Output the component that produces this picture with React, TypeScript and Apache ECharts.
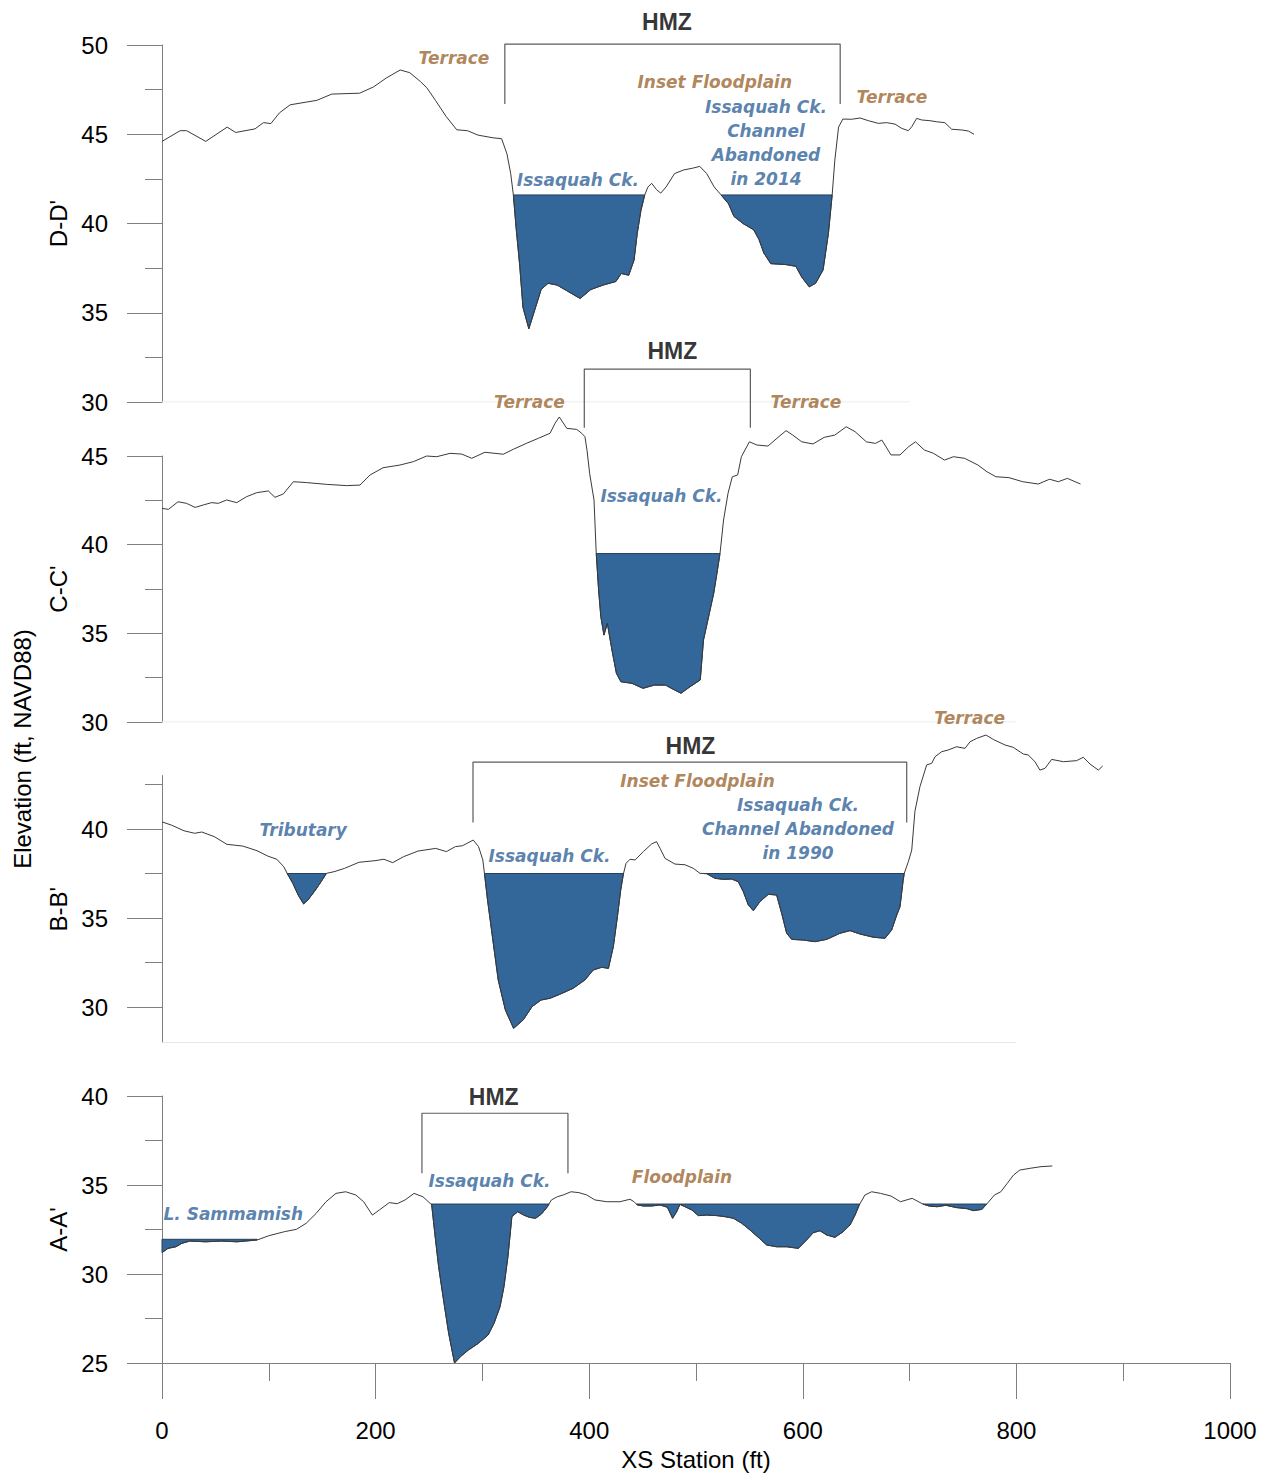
import React, { useEffect, useRef } from "react";
import * as echarts from "echarts";

// Surveyed ground profiles, [station (ft), elevation (ft, NAVD88)]
const profileD: number[][] = [
  [0, 44.6], [17, 45.2], [23, 45.2], [41, 44.6], [61, 45.4], [69, 45.1], [87, 45.3], [95, 45.65],
  [102, 45.6], [110, 46.2], [120, 46.65], [145, 46.9], [159, 47.25], [185, 47.3], [198, 47.65],
  [210, 48.15], [223, 48.6], [232, 48.45], [242, 47.95], [248, 47.6], [256, 46.9], [266, 46.0],
  [276, 45.25], [286, 45.2], [296, 44.95], [310, 44.8], [318, 44.75], [323, 43.9], [326.5, 42.8],
  [329, 41.6], [331.5, 39.8], [335, 37.6], [338, 35.3], [343.5, 34.1], [349, 35.15], [355, 36.3],
  [361.5, 36.65], [370, 36.55], [380, 36.2], [391.5, 35.8], [401.5, 36.3], [413, 36.55], [425, 36.75],
  [430, 37.2], [437, 37.1], [442, 37.95], [445, 39.45], [448.5, 40.75], [452, 41.6], [455, 42.05],
  [458.5, 42.25], [463, 41.9], [467, 41.7], [472, 42.05], [480, 42.8], [488.5, 43.0], [497, 43.1],
  [503.5, 43.2], [510, 42.8], [517, 42.05], [523.5, 41.6], [530.5, 41.1], [535.5, 40.4], [544, 40.0],
  [554, 39.65], [559, 39.1], [563.5, 38.35], [570, 37.75], [584, 37.7], [593.5, 37.6], [599, 37.0],
  [606, 36.45], [612, 36.65], [619, 37.4], [624, 39.45], [627.5, 41.6], [630, 43.55], [633.5, 45.4],
  [637.5, 45.85], [645.8, 45.84], [653.6, 45.91], [661.4, 45.76], [670.7, 45.61], [678.5, 45.65],
  [686.3, 45.57], [692.6, 45.33], [698.8, 45.2], [702, 45.42], [706.6, 45.89], [711.3, 45.8],
  [719, 45.76], [725.4, 45.7], [733, 45.65], [739.4, 45.28], [748.8, 45.24], [755, 45.18], [760.3, 45.0],
];

const profileC: number[][] = [
  [0, 42.05], [6, 41.99], [15, 42.42], [23, 42.33], [31, 42.1], [38.7, 42.24], [46.5, 42.37],
  [52.7, 42.33], [60.5, 42.52], [70, 42.37], [79, 42.7], [88.6, 42.93], [99.5, 43.03], [105.8, 42.67],
  [113.6, 42.86], [123, 43.55], [135.5, 43.5], [154, 43.4], [173, 43.33], [185.4, 43.36], [194.8, 43.93],
  [207, 44.34], [222.8, 44.49], [235.3, 44.68], [247.8, 45.0], [257.2, 44.96], [269.7, 45.15],
  [280.6, 45.11], [290, 44.87], [302.4, 45.21], [319.6, 45.1], [329, 45.38], [341.5, 45.72], [352.4, 46.0],
  [363.3, 46.28], [368, 46.84], [372, 47.2], [379, 46.56], [388.3, 46.5], [393, 46.28], [396, 46.09],
  [398, 45.3], [400.4, 44.02], [404.5, 42.52], [406.6, 39.51], [408.8, 37.44], [410.9, 35.94],
  [413.8, 34.9], [417, 35.56], [421.3, 34.06], [425.5, 32.74], [429.7, 32.27], [440, 32.18],
  [450.4, 31.9], [461, 32.08], [471.5, 32.08], [480, 31.8], [486, 31.62], [494.4, 31.99], [504, 32.37],
  [507, 34.62], [512.5, 36.13], [516.6, 37.26], [519.6, 38.38], [522.5, 39.51], [525.8, 41.39],
  [530, 42.9], [534, 43.83], [539, 43.93], [542.5, 44.96], [550, 45.8], [557, 45.62], [567.4, 45.56],
  [575.8, 46.0], [584.3, 46.43], [590.6, 46.18], [599, 45.8], [609.5, 45.68], [620, 46.05], [630, 46.18],
  [640.7, 46.65], [649, 46.37], [659.5, 45.8], [668, 45.71], [674, 45.9], [682.6, 45.06], [691, 45.06],
  [699, 45.52], [705.5, 45.8], [713.8, 45.34], [722.3, 45.15], [732.7, 44.77], [741, 44.96],
  [751.5, 44.87], [764, 44.49], [772.5, 44.11], [780.8, 43.83], [793, 43.78], [805.9, 43.55],
  [820.5, 43.42], [831, 43.69], [839.3, 43.55], [847.7, 43.74], [860, 43.42],
];

const profileB: number[][] = [
  [0, 40.4], [8.8, 40.22], [20.6, 39.9], [30.5, 39.76], [37.3, 39.83], [49, 39.57], [60.7, 39.14],
  [75.7, 39.04], [89, 38.78], [99, 38.48], [107.5, 38.3], [114, 37.88], [117.5, 37.47], [122.5, 36.95],
  [127.5, 36.29], [132.6, 35.79], [136.6, 36.01], [142.6, 36.48], [149, 37.04], [154, 37.51], [161, 37.6],
  [171, 37.79], [184.4, 38.13], [199.4, 38.22], [207.8, 38.3], [216, 38.11], [226, 38.44], [239.6, 38.76],
  [256.3, 38.91], [266.3, 38.73], [274.7, 39.01], [281.4, 39.06], [291.4, 39.38], [296.4, 39.01],
  [300.4, 38.26], [302, 37.47], [304.8, 36.01], [309.8, 33.76], [314.8, 31.52], [321.5, 29.83],
  [329.2, 28.8], [338.2, 29.27], [346.5, 30.02], [354.9, 30.39], [363.3, 30.49], [372, 30.7],
  [385, 31.05], [396, 31.52], [403.8, 32.08], [411.7, 32.23], [418, 32.17], [422.6, 33.39],
  [426.4, 35.07], [429.5, 36.57], [432, 37.47], [434.5, 38.07], [438.2, 38.3], [443, 38.26],
  [450.7, 38.73], [458.5, 39.16], [463, 39.29], [466.3, 38.92], [471, 38.35], [480.3, 38.03],
  [489.7, 37.99], [497.5, 37.79], [503.7, 37.51], [510, 37.49], [517.8, 37.23], [525.6, 37.17],
  [533.4, 37.19], [539.6, 37.04], [544.3, 36.48], [549, 35.73], [553.7, 35.41], [559.9, 35.92],
  [567.7, 36.33], [575.5, 36.29], [580.2, 35.26], [584.9, 34.14], [589.6, 33.8], [600.5, 33.76],
  [611.4, 33.67], [622.4, 33.8], [634.8, 34.14], [644.2, 34.29], [653.6, 34.1], [666, 33.92],
  [677, 33.86], [683.2, 34.33], [688, 35.17], [691, 35.63], [694, 37.13], [695, 37.51], [698.8, 38.16],
  [702, 38.82], [705, 41.0], [709.7, 42.38], [716, 43.6], [720.7, 43.69], [723.8, 44.06], [730, 44.34],
  [736.2, 44.44], [744, 44.62], [751.9, 44.53], [756.6, 44.9], [762.8, 45.09], [771.5, 45.28],
  [778.4, 45.03], [789.3, 44.72], [797, 44.59], [806.5, 44.21], [811, 44.16], [817.4, 43.78],
  [822, 43.31], [826.8, 43.41], [833, 43.91], [844, 43.78], [856.4, 43.84], [862.6, 44.03],
  [868.9, 43.65], [876.7, 43.31], [880.8, 43.54],
];

const profileA: number[][] = [
  [0, 31.2], [5.6, 31.44], [13, 31.53], [18.5, 31.72], [26, 31.85], [40.8, 31.81], [55.5, 31.85],
  [70.4, 31.81], [89, 31.91], [100, 32.15], [114.8, 32.38], [125.9, 32.51], [135, 32.85], [144.4, 33.41],
  [153.6, 34.06], [162.9, 34.53], [172, 34.62], [181.4, 34.44], [188.8, 34.06], [197, 33.31],
  [203.6, 33.6], [212.8, 34.01], [220.2, 33.95], [227.6, 34.16], [236, 34.53], [244.3, 34.34],
  [251, 33.97], [252.5, 33.9], [255.4, 32.29], [259, 30.41], [263.6, 28.54], [268.4, 26.67],
  [273.9, 25.0], [279.5, 25.36], [286.9, 25.73], [296.1, 26.1], [305.3, 26.57], [310.9, 27.23],
  [316.5, 28.16], [320.2, 29.29], [323.9, 30.97], [327.6, 33.22], [333.1, 33.5], [338.7, 33.31],
  [344.2, 33.18], [349.8, 33.13], [355.3, 33.37], [360.9, 33.78], [364.6, 34.16], [370.1, 34.34],
  [375.7, 34.44], [383, 34.62], [390.4, 34.57], [397.7, 34.44], [405.4, 34.16], [416.4, 34.06],
  [428.8, 34.06], [438.2, 34.2], [442, 34.06], [445, 33.88], [450.7, 33.82], [458.5, 33.82],
  [466.3, 33.88], [473.2, 33.75], [478.1, 33.13], [481.9, 33.5], [485, 33.91], [489.7, 33.78],
  [496, 33.6], [502.2, 33.28], [510, 33.31], [519.4, 33.28], [527.2, 33.22], [535, 33.13],
  [542.8, 32.85], [550.6, 32.47], [558.3, 32.06], [566.2, 31.63], [575.5, 31.53], [584.9, 31.53],
  [595.8, 31.44], [602, 31.81], [609.8, 32.32], [616.1, 32.43], [622.4, 32.19], [630.1, 32.06],
  [637.9, 32.38], [644.2, 32.75], [648.9, 33.31], [652.9, 33.88], [658.2, 34.44], [664.5, 34.62],
  [672.8, 34.53], [682.6, 34.38], [691.4, 34.06], [702.4, 34.25], [712.4, 33.93], [718.2, 33.82],
  [726, 33.78], [734, 33.86], [743.9, 33.73], [753.8, 33.67], [759.7, 33.56], [767.7, 33.63],
  [772.8, 33.97], [779.5, 34.44], [785.4, 34.62], [791.4, 35.09], [797.3, 35.56], [803.2, 35.84],
  [813, 35.94], [823, 36.03], [833.6, 36.07],
];

// Water surfaces: elevation and the station span they apply over
const waterD = [{ level: 41.6, from: 0, to: 760 }];
const waterC = [{ level: 39.5, from: 0, to: 860 }];
const waterB = [{ level: 37.5, from: 0, to: 881 }];
const waterA = [
  { level: 31.95, from: 0, to: 95 },
  { level: 33.93, from: 245, to: 790 },
];

// HMZ brackets: [left station, right station, leg bottom elev, top elev]
const hmzD = [321, 635, 46.7, 50.05];
const hmzC = [395.4, 550.9, 46.6, 49.9];
const hmzB = [291.2, 697.3, 40.37, 43.76];
const hmzA = [243.4, 380.1, 35.66, 39.03];

// Text notes: [text, station, elevation, kind]
const notesD: [string, number, number, string][] = [
  ["HMZ", 472.8, 51.29, "hmz"],
  ["Terrace", 273.4, 49.25, "land"],
  ["Inset Floodplain", 517.6, 47.94, "land"],
  ["Terrace", 683.5, 47.1, "land"],
  ["Issaquah Ck.", 389.4, 42.44, "water"],
  ["Issaquah Ck.\nChannel\nAbandoned\nin 2014", 565.5, 44.53, "water"],
];
const notesC: [string, number, number, string][] = [
  ["HMZ", 477.8, 50.92, "hmz"],
  ["Terrace", 344, 48.06, "land"],
  ["Terrace", 603, 48.06, "land"],
  ["Issaquah Ck.", 467.6, 42.76, "water"],
];
const notesB: [string, number, number, string][] = [
  ["HMZ", 494.8, 44.66, "hmz"],
  ["Terrace", 756.2, 46.22, "land"],
  ["Inset Floodplain", 501.4, 42.7, "land"],
  ["Issaquah Ck.\nChannel Abandoned\nin 1990", 595.5, 40.0, "water"],
  ["Tributary", 132.2, 39.94, "water"],
  ["Issaquah Ck.", 362.8, 38.48, "water"],
];
const notesA: [string, number, number, string][] = [
  ["HMZ", 310.6, 39.93, "hmz"],
  ["L. Sammamish", 66.7, 33.37, "water"],
  ["Issaquah Ck.", 306.7, 35.24, "water"],
  ["Floodplain", 486.9, 35.47, "land"],
];

// Axis ranges and tick values
const panelNames = ["D-D'", "C-C'", "B-B'", "A-A'"];
const yMinD = 30, yMaxD = 50;
const yMinC = 30, yMaxC = 45;
const yMinB = 28, yMaxB = 43;
const yMinA = 25, yMaxA = 40;
const yMajorD = [30, 35, 40, 45, 50];
const yMinorD = [32.5, 37.5, 42.5, 47.5];
const yMajorC = [30, 35, 40, 45];
const yMinorC = [32.5, 37.5, 42.5];
const yMajorB = [30, 35, 40];
const yMinorB = [32.5, 37.5, 42.5];
const yMajorA = [25, 30, 35, 40];
const yMinorA = [27.5, 32.5, 37.5];
// station where each panel's baseline stops, and the station span the panel's scale covers
const baseEndD = 700, baseEndC = 800, baseEndB = 800, baseEndA = 1000;
const xSpanD = 780, xSpanC = 880, xSpanB = 900, xSpanA = 1000;

const AXIS_FONT = '"Liberation Sans", Arial, sans-serif';
const NOTE_FONT = '"DejaVu Sans", sans-serif';
const C = {
  water: "#336699",
  waterEdge: "#253f5c",
  ground: "#3a3a3a",
  bracket: "#5c5c5c",
  land: "#9c6630",
  blue: "#2f6298",
  axis: "#808080",
  faint: "#dfe5ec",
};

// Split a profile into closed polygons wherever the ground lies below the water level
function poolPolygons(pts: number[][], level: number, from: number, to: number): number[][][] {
  const sub = pts.filter((p) => p[0] >= from && p[0] <= to);
  const polys: number[][][] = [];
  let cur: number[][] | null = null;
  for (let i = 0; i < sub.length; i++) {
    const [s, e] = sub[i];
    const below = e < level;
    if (below) {
      if (!cur) {
        cur = [];
        if (i > 0) {
          const [s0, e0] = sub[i - 1];
          cur.push([s0 + ((level - e0) * (s - s0)) / (e - e0), level]);
        } else {
          cur.push([s, level]);
        }
      }
      cur.push([s, e]);
    } else if (cur) {
      const [s0, e0] = sub[i - 1];
      cur.push([s0 + ((level - e0) * (s - s0)) / (e - e0), level]);
      polys.push(cur);
      cur = null;
    }
  }
  if (cur) {
    cur.push([cur[cur.length - 1][0], level]);
    polys.push(cur);
  }
  return polys;
}

type Panel = {
  profile: number[][];
  water: { level: number; from: number; to: number }[];
  hmz: number[];
  notes: [string, number, number, string][];
  yMin: number;
  yMax: number;
  yMajor: number[];
  yMinor: number[];
  baseEnd: number;
  xSpan: number;
  top: number;
  height: number;
};

const panels: Panel[] = [
  { profile: profileD, water: waterD, hmz: hmzD, notes: notesD, yMin: yMinD, yMax: yMaxD, yMajor: yMajorD, yMinor: yMinorD, baseEnd: baseEndD, xSpan: xSpanD, top: 45, height: 357 },
  { profile: profileC, water: waterC, hmz: hmzC, notes: notesC, yMin: yMinC, yMax: yMaxC, yMajor: yMajorC, yMinor: yMinorC, baseEnd: baseEndC, xSpan: xSpanC, top: 456, height: 266 },
  { profile: profileB, water: waterB, hmz: hmzB, notes: notesB, yMin: yMinB, yMax: yMaxB, yMajor: yMajorB, yMinor: yMinorB, baseEnd: baseEndB, xSpan: xSpanB, top: 775.6, height: 267 },
  { profile: profileA, water: waterA, hmz: hmzA, notes: notesA, yMin: yMinA, yMax: yMaxA, yMajor: yMajorA, yMinor: yMinorA, baseEnd: baseEndA, xSpan: xSpanA, top: 1096, height: 267 },
];

const PX_PER_FT = 1.068;
const LEFT = 162;

function noteLabel(text: string, kind: string) {
  if (kind === "hmz") {
    return { show: true, position: "inside", formatter: text, color: "#000", fontFamily: AXIS_FONT, fontWeight: "bold", fontSize: 23 };
  }
  return {
    show: true,
    position: "inside",
    formatter: text,
    color: kind === "land" ? C.land : C.blue,
    fontFamily: NOTE_FONT,
    fontWeight: "bold",
    fontStyle: "italic",
    fontSize: 17,
    lineHeight: 24,
    align: "center",
    verticalAlign: "middle",
  };
}

function buildOption() {
  const grid: any[] = [];
  const xAxis: any[] = [];
  const yAxis: any[] = [];
  const series: any[] = [];

  panels.forEach((p, i) => {
    const last = i === panels.length - 1;
    grid.push({ left: LEFT, top: p.top, width: p.xSpan * PX_PER_FT, height: p.height, outerBoundsMode: "none", containLabel: false });

    xAxis.push({
      gridIndex: i,
      type: "value",
      min: 0,
      max: p.xSpan,
      interval: 200,
      name: last ? "XS Station (ft)" : "",
      nameLocation: "middle",
      nameGap: 84,
      nameTextStyle: { fontFamily: AXIS_FONT, fontSize: 24, color: "#000" },
      axisLine: { show: last, onZero: false, lineStyle: { color: C.axis, width: 1 } },
      axisTick: { show: last, length: 36, lineStyle: { color: C.axis } },
      minorTick: { show: last, splitNumber: 2, length: 18, lineStyle: { color: C.axis } },
      axisLabel: { show: last, margin: 55, fontFamily: AXIS_FONT, fontSize: 24, color: "#000", formatter: (v: number) => String(v) },
      splitLine: { show: false },
    });

    // main y axis: line, labelled major ticks, panel name
    yAxis.push({
      gridIndex: i,
      type: "value",
      position: "left",
      min: p.yMin,
      max: p.yMax,
      name: panelNames[i],
      nameLocation: "middle",
      nameGap: 90,
      nameTextStyle: { fontFamily: AXIS_FONT, fontSize: 24, color: "#000" },
      axisLine: { show: true, onZero: false, lineStyle: { color: C.axis, width: 1 } },
      axisTick: { show: true, length: 35, customValues: p.yMajor, lineStyle: { color: C.axis } },
      axisLabel: { show: true, customValues: p.yMajor, margin: 54, fontFamily: AXIS_FONT, fontSize: 24, color: "#000" },
      splitLine: { show: false },
    });
    // companion axis on the same side carrying the short intermediate ticks
    yAxis.push({
      gridIndex: i,
      type: "value",
      position: "left",
      offset: 0,
      min: p.yMin,
      max: p.yMax,
      axisLine: { show: false, onZero: false },
      axisTick: { show: true, length: 17, customValues: p.yMinor, lineStyle: { color: C.axis } },
      axisLabel: { show: false },
      splitLine: { show: false },
    });
    const yIdx = i * 2;

    // faint baseline along the bottom of the upper panels
    if (!last) {
      series.push({
        type: "line",
        xAxisIndex: i,
        yAxisIndex: yIdx,
        data: [[0, p.yMin], [p.baseEnd, p.yMin]],
        symbol: "none",
        silent: true,
        z: 1,
        lineStyle: { color: C.faint, width: 1 },
      });
    }

    // water fill
    const polys: number[][][] = [];
    p.water.forEach((w) => polys.push(...poolPolygons(p.profile, w.level, w.from, w.to)));
    series.push({
      type: "custom",
      xAxisIndex: i,
      yAxisIndex: yIdx,
      silent: true,
      z: 2,
      data: polys.map((poly) => poly[0]),
      renderItem: (params: any, api: any) => {
        const poly = polys[params.dataIndex];
        return {
          type: "polygon",
          shape: { points: poly.map((pt) => api.coord(pt)) },
          style: { fill: C.water, stroke: C.waterEdge, lineWidth: 1 },
        };
      },
    });

    // ground profile
    series.push({
      type: "line",
      xAxisIndex: i,
      yAxisIndex: yIdx,
      data: p.profile,
      symbol: "none",
      clip: false,
      silent: true,
      z: 3,
      lineStyle: { color: C.ground, width: 1 },
    });

    // HMZ bracket
    const [l, r, b, t] = p.hmz;
    series.push({
      type: "line",
      xAxisIndex: i,
      yAxisIndex: yIdx,
      data: [[l, b], [l, t], [r, t], [r, b]],
      symbol: "none",
      clip: false,
      silent: true,
      z: 3,
      lineStyle: { color: C.bracket, width: 1.2 },
    });

    // text notes
    series.push({
      type: "scatter",
      xAxisIndex: i,
      yAxisIndex: yIdx,
      clip: false,
      silent: true,
      z: 5,
      symbolSize: 1,
      itemStyle: { color: "rgba(0,0,0,0)" },
      data: p.notes.map(([text, s, e, kind]) => ({ value: [s, e], label: noteLabel(text, kind) })),
    });
  });

  return {
    animation: false,
    backgroundColor: "#fff",
    grid,
    xAxis,
    yAxis,
    series,
    graphic: [
      {
        type: "text",
        x: 22,
        y: 749,
        rotation: Math.PI / 2,
        style: {
          text: "Elevation (ft, NAVD88)",
          fontFamily: AXIS_FONT,
          fontSize: 24,
          fill: "#000",
          align: "center",
          verticalAlign: "middle",
        },
      },
    ],
  };
}

export default function App() {
  const ref = useRef<HTMLDivElement>(null);
  useEffect(() => {
    if (!ref.current) return;
    const chart = echarts.init(ref.current, undefined, { renderer: "svg" });
    chart.setOption(buildOption() as any);
    return () => chart.dispose();
  }, []);
  return (
    <div
      ref={ref}
      style={{ position: "absolute", left: 0, top: 0, width: 1262, height: 1473, background: "#fff" }}
    />
  );
}
